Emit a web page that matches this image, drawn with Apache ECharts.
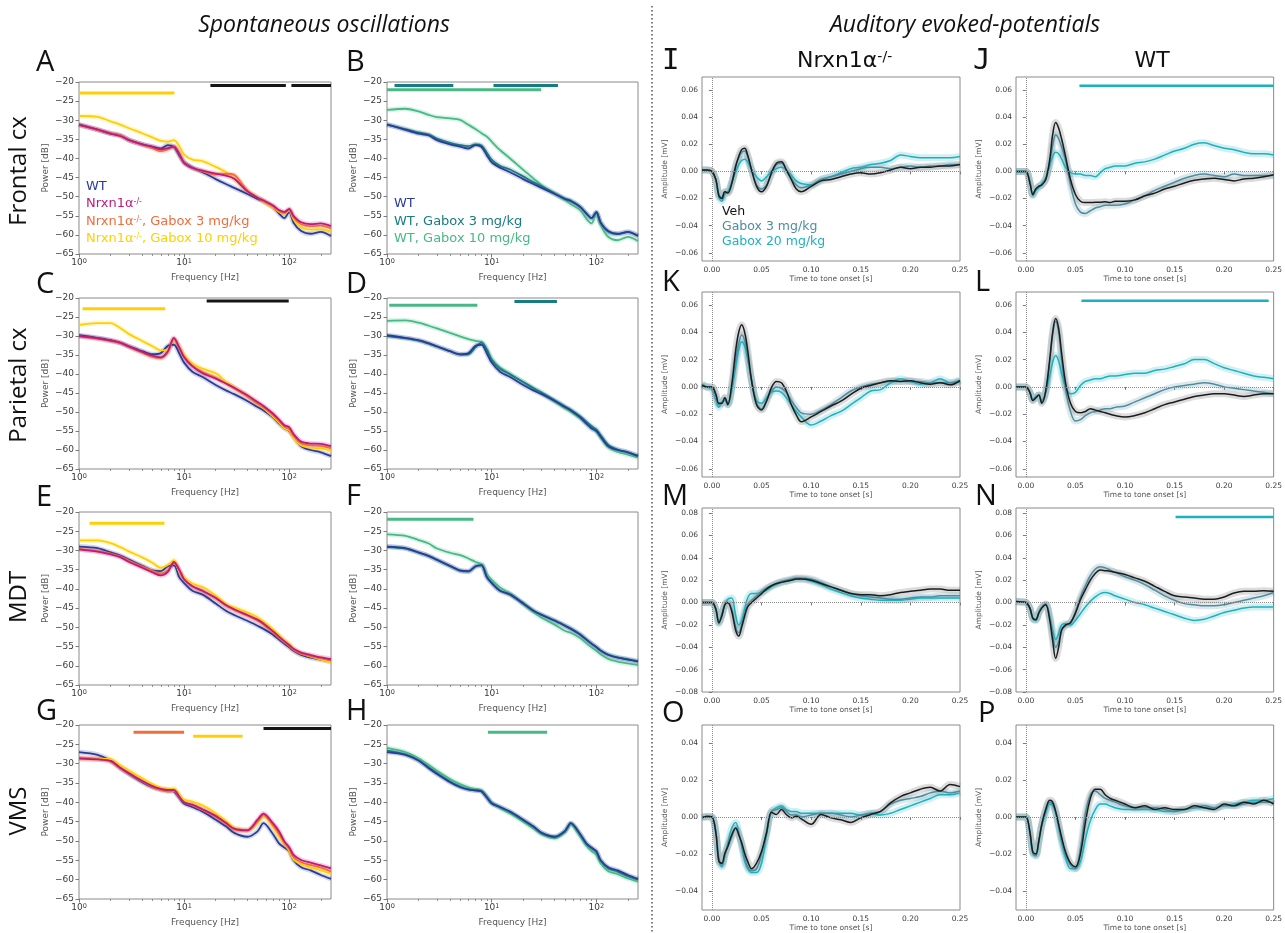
<!DOCTYPE html>
<html>
<head>
<meta charset="utf-8">
<script src="https://cdn.jsdelivr.net/npm/echarts@6/dist/echarts.min.js"></script>
<style>
html, body { margin: 0; padding: 0; background: #fff; }
#chart { width: 1285px; height: 933px; }
</style>
</head>
<body>
<div id="chart"></div>
<script>
// ---- spectra (power in dB at each frequency) ----
const freqHz = [1, 1.5, 2, 2.5, 3, 4, 5, 6, 7, 8, 9, 10, 12, 15, 20, 25, 30, 40, 50, 57, 70, 80, 90, 100, 110, 130, 160, 200, 250];
const minorTickHz = [2, 3, 4, 5, 6, 7, 8, 9, 20, 30, 40, 50, 60, 70, 80, 90, 200];

const frontalWT = [-31.1, -32.5, -33.5, -34.0, -35.2, -36.3, -36.9, -37.4, -36.5, -37.0, -39.2, -41.0, -42.4, -43.6, -45.4, -46.7, -47.7, -49.3, -50.6, -51.2, -52.7, -54.4, -55.6, -54.0, -56.8, -59.0, -59.7, -59.2, -60.3];
const frontalKO = [-31.2, -32.4, -33.5, -34.2, -35.2, -36.3, -37.0, -37.6, -37.3, -36.9, -38.8, -41.2, -42.5, -43.2, -44.0, -44.5, -45.3, -48.6, -50.3, -51.0, -52.3, -53.5, -54.0, -53.2, -55.0, -56.7, -57.2, -57.0, -57.7];
const frontalKOg3 = [-31.2, -32.5, -33.4, -34.0, -35.2, -36.4, -37.3, -38.1, -37.6, -37.0, -38.8, -41.0, -42.5, -43.4, -44.2, -44.0, -44.3, -48.4, -50.2, -51.2, -52.6, -53.8, -54.3, -53.5, -55.5, -57.2, -57.7, -57.6, -58.3];
const frontalKOg10 = [-28.9, -29.1, -30.3, -31.2, -32.1, -33.4, -34.5, -35.4, -35.6, -35.2, -36.8, -39.0, -40.3, -40.7, -42.2, -43.6, -45.3, -48.6, -50.2, -51.3, -52.8, -54.0, -54.5, -53.6, -56.0, -58.0, -58.6, -58.5, -59.2];
const frontalWTg3 = [-31.2, -32.3, -33.2, -33.7, -34.8, -35.9, -36.5, -36.8, -36.3, -36.6, -38.5, -40.3, -41.9, -42.9, -44.7, -46.2, -47.3, -49.1, -50.5, -51.0, -52.6, -54.3, -55.6, -54.2, -56.8, -59.2, -59.8, -59.3, -60.2];
const frontalWTg10 = [-27.3, -27.0, -27.7, -28.6, -29.2, -29.5, -29.9, -31.2, -32.3, -33.4, -34.3, -35.6, -37.8, -40.0, -43.0, -45.2, -47.0, -49.2, -50.9, -52.0, -53.5, -55.7, -57.0, -54.4, -57.5, -60.5, -61.4, -60.5, -61.6];

const parietalWT = [-29.8, -30.5, -31.1, -31.9, -32.7, -34.0, -34.8, -34.5, -32.6, -32.3, -34.6, -37.0, -39.4, -40.8, -42.9, -44.3, -45.3, -47.1, -48.7, -49.6, -51.4, -53.0, -54.3, -55.0, -56.5, -59.0, -60.0, -60.6, -61.6];
const parietalKO = [-30.0, -30.6, -31.2, -31.8, -32.8, -34.2, -35.2, -35.6, -34.0, -30.5, -33.0, -35.6, -38.0, -39.8, -41.2, -42.5, -43.6, -45.6, -47.4, -48.4, -50.4, -52.0, -53.5, -54.0, -55.8, -57.8, -58.3, -58.4, -59.0];
const parietalKOg3 = [-30.1, -30.7, -31.3, -31.9, -32.9, -34.4, -35.5, -35.8, -34.3, -30.8, -33.2, -35.4, -37.8, -39.5, -41.0, -42.5, -43.8, -45.9, -47.8, -48.8, -50.8, -52.4, -53.8, -54.5, -56.3, -58.3, -58.8, -58.9, -59.5];
const parietalKOg10 = [-27.1, -26.6, -26.6, -28.0, -29.5, -31.3, -32.7, -33.8, -33.5, -31.0, -32.8, -35.0, -37.2, -38.6, -39.8, -42.0, -43.5, -45.8, -47.9, -49.0, -51.2, -52.8, -54.3, -54.9, -56.8, -58.8, -59.4, -59.6, -60.2];
const parietalWTg3 = [-30.0, -30.6, -31.2, -32.0, -32.8, -34.0, -34.9, -34.8, -33.0, -31.7, -33.6, -36.3, -38.6, -40.1, -42.1, -43.7, -44.9, -46.9, -48.5, -49.4, -51.1, -52.5, -53.7, -54.6, -56.1, -58.6, -59.9, -60.6, -61.5];
const parietalWTg10 = [-26.0, -25.9, -26.5, -27.3, -28.0, -29.2, -30.1, -30.8, -31.3, -31.6, -33.5, -36.0, -38.3, -40.0, -42.2, -43.8, -45.0, -47.3, -49.0, -50.0, -51.7, -53.1, -54.4, -55.2, -56.8, -59.3, -60.5, -61.2, -62.0];

const mdtWT = [-29.0, -29.4, -30.5, -31.4, -32.4, -34.0, -35.2, -35.4, -34.1, -33.9, -37.0, -38.5, -40.5, -41.5, -43.8, -45.7, -46.8, -48.3, -49.6, -50.4, -51.9, -53.2, -54.3, -55.2, -56.1, -57.2, -57.9, -58.4, -58.9];
const mdtKO = [-29.7, -30.3, -31.0, -31.8, -33.0, -34.5, -35.7, -36.5, -35.6, -33.0, -35.0, -37.5, -39.3, -40.5, -42.3, -44.2, -45.3, -46.8, -48.0, -49.0, -51.0, -52.4, -53.6, -54.6, -55.6, -56.6, -57.2, -57.8, -58.3];
const mdtKOg3 = [-29.6, -30.2, -30.8, -31.6, -32.7, -34.2, -35.3, -36.0, -35.2, -33.2, -35.2, -37.6, -39.4, -40.6, -42.5, -44.4, -45.5, -47.0, -48.3, -49.3, -51.3, -52.7, -53.9, -54.9, -55.9, -56.9, -57.5, -58.1, -58.6];
const mdtKOg10 = [-27.4, -27.4, -28.1, -29.2, -30.3, -31.8, -33.2, -34.5, -33.8, -32.5, -35.6, -37.0, -38.6, -39.5, -41.7, -43.9, -44.8, -46.1, -47.4, -48.5, -50.5, -52.0, -53.3, -54.4, -55.6, -56.8, -57.6, -58.4, -59.1];
const mdtWTg3 = [-29.1, -29.5, -30.6, -31.5, -32.5, -34.1, -35.3, -35.5, -34.2, -33.8, -36.9, -38.4, -40.4, -41.4, -43.7, -45.6, -46.7, -48.2, -49.5, -50.3, -51.8, -53.1, -54.2, -55.1, -56.0, -57.1, -57.8, -58.3, -58.8];
const mdtWTg10 = [-25.8, -26.2, -27.3, -28.2, -29.5, -30.6, -31.2, -32.1, -33.0, -33.6, -36.2, -37.6, -39.6, -41.2, -44.0, -46.0, -47.5, -49.3, -50.9, -51.4, -52.8, -54.1, -55.2, -56.1, -57.0, -58.2, -58.9, -59.4, -59.8];

const vmsWT = [-27.0, -27.7, -29.2, -31.2, -32.7, -34.8, -36.1, -36.7, -36.9, -37.2, -38.8, -40.3, -41.2, -42.4, -44.5, -46.2, -47.9, -48.9, -47.5, -45.4, -48.2, -50.6, -51.7, -52.6, -55.0, -56.8, -57.6, -58.8, -59.8];
const vmsKO = [-28.7, -28.9, -29.3, -31.2, -32.5, -34.5, -35.8, -36.5, -36.8, -36.8, -38.5, -40.0, -40.6, -41.8, -43.5, -45.3, -46.8, -47.2, -44.5, -42.9, -45.4, -47.5, -50.1, -51.6, -53.6, -54.9, -55.6, -56.3, -57.1];
const vmsKOg3 = [-28.4, -28.8, -29.5, -31.3, -32.6, -34.6, -36.0, -36.8, -37.2, -37.1, -38.6, -40.0, -40.8, -42.0, -43.8, -45.6, -47.0, -47.4, -45.0, -43.3, -45.9, -48.1, -50.5, -52.1, -54.2, -55.5, -56.2, -56.9, -57.9];
const vmsKOg10 = [-28.8, -28.7, -28.8, -30.5, -31.8, -33.8, -35.3, -36.2, -36.6, -36.5, -38.0, -39.3, -39.8, -40.8, -42.8, -44.8, -46.6, -47.2, -45.3, -43.6, -46.3, -48.8, -50.8, -52.5, -54.8, -56.0, -56.8, -57.6, -58.5];
const vmsWTg3 = [-26.6, -27.6, -29.1, -30.9, -32.4, -34.6, -35.9, -36.6, -36.9, -37.1, -38.6, -40.1, -41.2, -42.5, -44.6, -46.3, -47.9, -48.9, -47.4, -45.4, -48.3, -50.6, -51.9, -52.9, -55.1, -57.1, -57.9, -59.1, -60.0];
const vmsWTg10 = [-25.9, -27.0, -28.6, -30.3, -31.8, -34.0, -35.3, -36.1, -36.6, -36.9, -38.6, -40.2, -41.5, -42.9, -45.0, -46.8, -48.3, -49.3, -47.8, -45.8, -48.8, -51.2, -52.6, -53.6, -55.8, -57.8, -58.6, -59.7, -60.5];

// significance bars: [group, from Hz, to Hz, level dB]
const sigA = [['koG10', 1, 8.1, -22.9], ['wtko', 17.8, 93, -20.9], ['wtko', 105, 250, -20.9]];
const sigB = [['wtG3', 1.18, 4.3, -20.9], ['wtG3', 10.4, 43, -20.9], ['wtG10', 1, 29.7, -22.0]];
const sigC = [['koG10', 1.08, 6.6, -22.8], ['wtko', 16.4, 99, -20.8]];
const sigD = [['wtG10', 1.05, 7.3, -21.9], ['wtG3', 16.5, 42, -20.9]];
const sigE = [['koG10', 1.26, 6.5, -22.9]];
const sigF = [['wtG10', 1, 6.7, -21.9]];
const sigG = [['koG3', 3.3, 10, -21.9], ['koG10', 12.2, 36, -22.9], ['wtko', 57, 250, -20.9]];
const sigH = [['wtG10', 9.2, 33.8, -21.9]];

// ---- auditory evoked potentials (mV) ----
const erpTime = [-0.01, -0.005, 0, 0.004, 0.007, 0.01, 0.013, 0.016, 0.02, 0.024, 0.027, 0.03, 0.033, 0.036, 0.04, 0.045, 0.05, 0.055, 0.06, 0.065, 0.07, 0.075, 0.08, 0.085, 0.09, 0.1, 0.11, 0.12, 0.13, 0.14, 0.15, 0.16, 0.17, 0.18, 0.19, 0.2, 0.21, 0.22, 0.23, 0.24, 0.25];
const erpTimeTicks = [0, 0.05, 0.1, 0.15, 0.2, 0.25];
const ampTicks6 = [-0.06, -0.04, -0.02, 0, 0.02, 0.04, 0.06];
const ampTicks8 = [-0.08, -0.06, -0.04, -0.02, 0, 0.02, 0.04, 0.06, 0.08];
const ampTicks4 = [-0.04, -0.02, 0, 0.02, 0.04];

const koFrontalVeh = [0.001, 0.001, 0, -0.006, -0.018, -0.020, -0.015, -0.016, -0.009, 0.004, 0.011, 0.016, 0.017, 0.012, 0.001, -0.011, -0.015, -0.011, -0.001, 0.006, 0.007, 0.001, -0.006, -0.013, -0.015, -0.011, -0.007, -0.006, -0.004, -0.002, -0.001, -0.002, -0.001, 0.001, 0.003, 0.002, 0.003, 0.003, 0.004, 0.004, 0.005];
const koFrontalG3 = [0.001, 0.001, 0, -0.006, -0.017, -0.019, -0.015, -0.015, -0.008, 0.004, 0.010, 0.014, 0.015, 0.011, 0.001, -0.010, -0.013, -0.010, -0.002, 0.005, 0.006, 0.001, -0.005, -0.010, -0.012, -0.010, -0.006, -0.004, -0.002, 0.000, 0.002, 0.003, 0.003, 0.002, 0.003, 0.004, 0.003, 0.004, 0.004, 0.005, 0.005];
const koFrontalG20 = [0.001, 0.001, 0, -0.007, -0.019, -0.022, -0.017, -0.015, -0.008, 0.000, 0.005, 0.008, 0.009, 0.007, 0.001, -0.004, -0.007, -0.004, 0.000, 0.002, 0.003, 0.001, -0.003, -0.007, -0.009, -0.010, -0.006, -0.004, -0.001, 0.002, 0.003, 0.005, 0.006, 0.008, 0.012, 0.011, 0.010, 0.010, 0.010, 0.010, 0.011];
const wtFrontalVeh = [0, 0, 0, -0.0085, -0.017, -0.013, -0.011, -0.010, -0.006, 0.0085, 0.027, 0.036, 0.032, 0.024, 0.011, -0.006, -0.017, -0.022, -0.023, -0.023, -0.0227, -0.0227, -0.0224, -0.023, -0.022, -0.022, -0.021, -0.018, -0.016, -0.013, -0.011, -0.0085, -0.0066, -0.0056, -0.005, -0.006, -0.007, -0.0056, -0.005, -0.004, -0.0025];
const wtFrontalG3 = [0, 0, 0, -0.008, -0.017, -0.013, -0.011, -0.010, -0.006, 0.006, 0.019, 0.027, 0.024, 0.018, 0.008, -0.010, -0.024, -0.030, -0.031, -0.029, -0.027, -0.026, -0.025, -0.025, -0.025, -0.024, -0.021, -0.018, -0.014, -0.011, -0.008, -0.005, -0.003, -0.002, -0.003, -0.004, -0.002, -0.003, -0.003, -0.003, -0.003];
const wtFrontalG20 = [0, 0, 0, -0.007, -0.018, -0.014, -0.012, -0.009, -0.005, 0.004, 0.011, 0.014, 0.013, 0.009, 0.003, -0.001, -0.002, -0.002, -0.003, -0.003, -0.004, -0.001, 0.002, 0.003, 0.004, 0.004, 0.006, 0.007, 0.009, 0.012, 0.015, 0.017, 0.020, 0.021, 0.019, 0.017, 0.016, 0.014, 0.013, 0.013, 0.012];

const koParietalVeh = [0.001, 0, 0, -0.0055, -0.012, -0.012, -0.008, -0.013, 0.002, 0.027, 0.040, 0.0455, 0.040, 0.027, 0.0045, -0.013, -0.017, -0.0105, -0.0005, 0.004, 0.003, -0.003, -0.013, -0.0205, -0.0255, -0.022, -0.018, -0.014, -0.0105, -0.0055, -0.001, 0.001, 0.003, 0.0045, 0.004, 0.0045, 0.003, 0.002, 0.003, 0.0015, 0.0045];
const koParietalG3 = [0.002, 0, 0, -0.006, -0.013, -0.012, -0.008, -0.012, 0, 0.020, 0.032, 0.038, 0.034, 0.022, 0.004, -0.012, -0.016, -0.010, -0.003, 0, -0.001, -0.004, -0.010, -0.015, -0.019, -0.020, -0.017, -0.013, -0.008, -0.003, 0, 0.002, 0.003, 0.004, 0.004, 0.004, 0.004, 0.003, 0.003, 0.003, 0.004];
const koParietalG20 = [0.002, 0, -0.002, -0.010, -0.015, -0.011, -0.010, -0.013, -0.003, 0.015, 0.027, 0.033, 0.030, 0.020, 0.005, -0.010, -0.012, -0.008, -0.004, -0.003, -0.004, -0.008, -0.013, -0.018, -0.022, -0.028, -0.025, -0.021, -0.018, -0.013, -0.008, -0.003, -0.002, 0.003, 0.006, 0.004, 0.002, 0.003, 0.006, 0.003, 0.005];
const wtParietalVeh = [0, 0, 0, -0.004, -0.010, -0.008, -0.006, -0.012, -0.003, 0.020, 0.040, 0.050, 0.043, 0.025, 0.003, -0.012, -0.018, -0.019, -0.018, -0.016, -0.017, -0.018, -0.019, -0.020, -0.021, -0.022, -0.021, -0.019, -0.016, -0.013, -0.011, -0.009, -0.007, -0.006, -0.005, -0.005, -0.006, -0.007, -0.006, -0.005, -0.005];
const wtParietalG3 = [0, 0, 0, -0.004, -0.010, -0.008, -0.006, -0.011, -0.004, 0.018, 0.038, 0.048, 0.040, 0.020, -0.002, -0.018, -0.025, -0.024, -0.021, -0.019, -0.018, -0.017, -0.016, -0.016, -0.015, -0.014, -0.011, -0.008, -0.005, -0.002, 0.000, 0.001, 0.002, 0.003, 0.002, 0.000, -0.001, -0.002, -0.003, -0.004, -0.005];
const wtParietalG20 = [0, 0, 0, -0.004, -0.009, -0.007, -0.006, -0.010, -0.004, 0.008, 0.018, 0.023, 0.019, 0.010, 0.000, -0.005, -0.004, 0.001, 0.004, 0.005, 0.006, 0.006, 0.007, 0.008, 0.008, 0.009, 0.010, 0.010, 0.012, 0.013, 0.015, 0.017, 0.020, 0.020, 0.017, 0.014, 0.012, 0.010, 0.008, 0.007, 0.006];

const koMdtVeh = [0, 0, 0, -0.006, -0.018, -0.012, -0.002, 0.000, -0.008, -0.025, -0.030, -0.022, -0.012, -0.004, 0.000, 0.004, 0.008, 0.012, 0.015, 0.017, 0.018, 0.019, 0.020, 0.021, 0.021, 0.020, 0.017, 0.014, 0.011, 0.008, 0.007, 0.007, 0.006, 0.007, 0.009, 0.010, 0.011, 0.012, 0.012, 0.011, 0.011];
const koMdtG3 = [0, 0, 0, -0.006, -0.017, -0.011, -0.002, 0.000, -0.006, -0.022, -0.027, -0.020, -0.010, -0.002, 0.002, 0.006, 0.010, 0.013, 0.015, 0.017, 0.019, 0.020, 0.021, 0.022, 0.022, 0.021, 0.018, 0.014, 0.011, 0.008, 0.006, 0.005, 0.004, 0.003, 0.003, 0.004, 0.005, 0.005, 0.006, 0.006, 0.006];
const koMdtG20 = [0, 0, 0, -0.007, -0.019, -0.010, -0.002, 0.003, 0.004, -0.012, -0.020, -0.016, -0.006, 0.004, 0.008, 0.008, 0.009, 0.011, 0.014, 0.016, 0.018, 0.019, 0.020, 0.021, 0.021, 0.019, 0.016, 0.012, 0.009, 0.006, 0.004, 0.003, 0.002, 0.002, 0.002, 0.003, 0.004, 0.004, 0.004, 0.004, 0.004];
const wtMdtVeh = [0.001, 0.0005, 0, -0.005, -0.014, -0.0155, -0.0095, -0.005, -0.002, -0.0155, -0.034, -0.050, -0.040, -0.0245, -0.020, -0.018, -0.0095, 0.0025, 0.0115, 0.020, 0.026, 0.029, 0.0285, 0.028, 0.027, 0.025, 0.022, 0.019, 0.0145, 0.010, 0.006, 0.005, 0.004, 0.003, 0.003, 0.005, 0.0085, 0.010, 0.010, 0.0105, 0.010];
const wtMdtG3 = [0.001, 0.0005, 0, -0.005, -0.014, -0.015, -0.009, -0.004, -0.001, -0.013, -0.029, -0.040, -0.035, -0.025, -0.021, -0.018, -0.008, 0.005, 0.015, 0.024, 0.030, 0.032, 0.031, 0.029, 0.027, 0.023, 0.020, 0.016, 0.011, 0.006, 0.002, -0.001, -0.002, -0.003, -0.003, -0.002, 0.000, 0.002, 0.004, 0.006, 0.009];
const wtMdtG20 = [0.001, 0.0005, 0, -0.005, -0.015, -0.016, -0.009, -0.004, -0.002, -0.012, -0.025, -0.033, -0.028, -0.020, -0.019, -0.020, -0.016, -0.010, -0.004, 0.001, 0.005, 0.008, 0.009, 0.008, 0.006, 0.003, 0.000, -0.002, -0.005, -0.008, -0.011, -0.014, -0.016, -0.015, -0.012, -0.009, -0.007, -0.005, -0.004, -0.004, -0.004];

const koVmsVeh = [-0.0005, 0.0004, 0, -0.0087, -0.024, -0.025, -0.0196, -0.016, -0.0096, -0.006, -0.0096, -0.014, -0.0196, -0.024, -0.028, -0.025, -0.0187, -0.0087, 0.0025, 0.0013, 0.004, 0.0013, -0.0005, 0.0004, -0.001, -0.004, 0.0013, -0.0005, -0.0015, -0.003, -0.0005, 0.0013, 0.003, 0.0076, 0.011, 0.013, 0.015, 0.016, 0.014, 0.0176, 0.0164];
const koVmsG3 = [0, 0, 0, -0.008, -0.022, -0.026, -0.021, -0.016, -0.011, -0.006, -0.009, -0.015, -0.022, -0.027, -0.029, -0.028, -0.020, -0.008, 0.003, 0.004, 0.005, 0.003, 0.001, 0.001, 0.000, 0.001, 0.002, 0.002, 0.001, 0.000, 0.001, 0.002, 0.003, 0.007, 0.009, 0.010, 0.011, 0.013, 0.014, 0.013, 0.014];
const koVmsG20 = [0, 0, 0, -0.009, -0.024, -0.027, -0.021, -0.014, -0.006, -0.003, -0.008, -0.016, -0.024, -0.028, -0.030, -0.030, -0.025, -0.010, 0.003, 0.005, 0.006, 0.004, 0.003, 0.003, 0.002, 0.002, 0.002, 0.002, 0.002, 0.002, 0.001, 0.002, 0.001, 0.002, 0.004, 0.006, 0.008, 0.010, 0.012, 0.012, 0.013];
const wtVmsVeh = [0, 0, 0, -0.008, -0.019, -0.020, -0.013, -0.004, 0.004, 0.009, 0.008, 0.003, -0.004, -0.011, -0.019, -0.025, -0.027, -0.020, -0.003, 0.010, 0.015, 0.015, 0.012, 0.010, 0.009, 0.007, 0.005, 0.006, 0.004, 0.005, 0.004, 0.004, 0.006, 0.005, 0.004, 0.007, 0.006, 0.008, 0.007, 0.009, 0.007];
const wtVmsG3 = [0, 0, 0, -0.008, -0.019, -0.021, -0.013, -0.004, 0.004, 0.008, 0.007, 0.003, -0.004, -0.012, -0.020, -0.026, -0.028, -0.017, 0.002, 0.012, 0.014, 0.012, 0.010, 0.009, 0.008, 0.006, 0.005, 0.005, 0.005, 0.004, 0.003, 0.004, 0.005, 0.006, 0.005, 0.006, 0.006, 0.007, 0.008, 0.008, 0.008];
const wtVmsG20 = [0, 0, 0, -0.009, -0.020, -0.021, -0.014, -0.005, 0.002, 0.007, 0.006, 0.002, -0.006, -0.014, -0.022, -0.028, -0.028, -0.024, -0.012, -0.002, 0.004, 0.007, 0.007, 0.006, 0.005, 0.004, 0.004, 0.004, 0.004, 0.003, 0.003, 0.004, 0.005, 0.005, 0.005, 0.006, 0.007, 0.008, 0.009, 0.009, 0.010];

// significance bars: [group, from s, to s, level mV]
const sigJ = [['g20', 0.054, 0.25, 0.063]];
const sigL = [['g20', 0.056, 0.245, 0.063]];
const sigN = [['g20', 0.151, 0.25, 0.0765]];

const colors = {
    wt: '#2b3c98', ko: '#c0197b', koG3: '#f26c3c', koG10: '#ffd000',
    wtG3: '#177c82', wtG10: '#46b985', wtko: '#151515',
    veh: '#1c1c1c', g3: '#4e8d9f', g20: '#1db1bf'
};

const grids = [], xAxes = [], yAxes = [], series = [];
const tickColor = '#7a7a7a';
const labelColor = '#3a3a3a';
const minus = v => (v < -1e-9 ? '\u2212' : '') + Math.abs(v);

// 功率谱面板
function addSpectrum(left, top, width, height, curves, bars) {
    const gi = grids.length;
    grids.push({ left, top, width, height, show: true, borderColor: '#8a8a8a', borderWidth: 1, backgroundColor: 'transparent' });
    const xi = xAxes.length;
    xAxes.push({
        type: 'log', logBase: 10, min: 1, max: 250, gridIndex: gi, position: 'bottom',
        name: 'Frequency [Hz]', nameLocation: 'middle', nameGap: 19,
        nameTextStyle: { fontSize: 9, color: '#555', fontFamily: 'DejaVu Sans' },
        axisLine: { show: false }, splitLine: { show: false }, minorTick: { show: false },
        axisTick: { show: true, length: 3.5, lineStyle: { color: tickColor } },
        axisLabel: {
            margin: 4, fontSize: 9, color: labelColor, fontFamily: 'DejaVu Sans', showMaxLabel: false,
            formatter: v => '10{e|' + Math.round(Math.log10(v)) + '}',
            rich: { e: { fontSize: 6.5, color: labelColor, fontFamily: 'DejaVu Sans', verticalAlign: 'top' } }
        }
    });
    // 次刻度
    xAxes.push({
        type: 'value', min: 0, max: Math.log10(250), gridIndex: gi, position: 'bottom',
        axisLine: { show: false }, splitLine: { show: false }, axisLabel: { show: false },
        axisTick: { show: true, length: 2, customValues: minorTickHz.map(f => Math.log10(f)), lineStyle: { color: tickColor, width: 0.8 } }
    });
    const yi = yAxes.length;
    yAxes.push({
        type: 'value', min: -65, max: -20, interval: 5, gridIndex: gi,
        name: 'Power [dB]', nameLocation: 'middle', nameGap: 29,
        nameTextStyle: { fontSize: 9, color: '#555', fontFamily: 'DejaVu Sans' },
        axisLine: { show: false }, splitLine: { show: false },
        axisTick: { show: true, length: 3.5, lineStyle: { color: tickColor } },
        axisLabel: { margin: 5, fontSize: 9, color: labelColor, fontFamily: 'DejaVu Sans', formatter: minus }
    });
    curves.forEach(([key, values]) => {
        const data = freqHz.map((f, i) => [f, values[i]]);
        series.push({ type: 'line', xAxisIndex: xi, yAxisIndex: yi, data, showSymbol: false, smooth: 0.3, silent: true, z: 1,
            lineStyle: { color: colors[key], width: 5, opacity: 0.2 } });
    });
    curves.forEach(([key, values]) => {
        const data = freqHz.map((f, i) => [f, values[i]]);
        series.push({ type: 'line', xAxisIndex: xi, yAxisIndex: yi, data, showSymbol: false, smooth: 0.3, silent: true, z: 2,
            lineStyle: { color: colors[key], width: 1.8 } });
    });
    bars.forEach(([key, from, to, level]) => {
        series.push({ type: 'line', xAxisIndex: xi, yAxisIndex: yi, data: [[from, level], [to, level]], showSymbol: false, silent: true, z: 3,
            lineStyle: { color: colors[key], width: 3 } });
    });
}

// 听觉诱发电位面板
function addErp(left, top, width, height, yRange, yTicks, curves, bars) {
    const gi = grids.length;
    grids.push({ left, top, width, height, show: true, borderColor: '#8a8a8a', borderWidth: 1, backgroundColor: 'transparent' });
    const xi = xAxes.length;
    xAxes.push({
        type: 'value', min: -0.01, max: 0.25, gridIndex: gi, position: 'bottom',
        name: 'Time to tone onset [s]', nameLocation: 'middle', nameGap: 13,
        nameTextStyle: { fontSize: 7.5, color: '#555', fontFamily: 'DejaVu Sans' },
        axisLine: { show: false }, splitLine: { show: false },
        axisTick: { show: true, length: 3, customValues: erpTimeTicks, lineStyle: { color: tickColor } },
        axisLabel: { customValues: erpTimeTicks, margin: 5, fontSize: 7.5, color: labelColor, fontFamily: 'DejaVu Sans', formatter: v => v.toFixed(2) }
    });
    const yi = yAxes.length;
    yAxes.push({
        type: 'value', min: yRange[0], max: yRange[1], gridIndex: gi,
        name: 'Amplitude [mV]', nameLocation: 'middle', nameGap: 33,
        nameTextStyle: { fontSize: 7.5, color: '#555', fontFamily: 'DejaVu Sans' },
        axisLine: { show: false }, splitLine: { show: false },
        axisTick: { show: true, length: 3, customValues: yTicks, lineStyle: { color: tickColor } },
        axisLabel: { customValues: yTicks, margin: 4, fontSize: 7.5, color: labelColor, fontFamily: 'DejaVu Sans',
            formatter: v => (v < -1e-9 ? '\u2212' : '') + Math.abs(v).toFixed(2) }
    });
    curves.forEach(([key, values], k) => {
        const data = erpTime.map((t, i) => [t, values[i]]);
        const s = { type: 'line', xAxisIndex: xi, yAxisIndex: yi, data, showSymbol: false, smooth: 0.35, silent: true, z: 1,
            lineStyle: { color: key === 'veh' ? '#8c8c8c' : colors[key], width: 7, opacity: key === 'veh' ? 0.3 : 0.2 } };
        if (k === 0) {
            s.markLine = { silent: true, symbol: ['none', 'none'], label: { show: false },
                lineStyle: { type: 'dotted', color: '#8a8a8a', width: 1 }, data: [{ xAxis: 0 }, { yAxis: 0 }] };
        }
        series.push(s);
    });
    curves.forEach(([key, values]) => {
        const data = erpTime.map((t, i) => [t, values[i]]);
        series.push({ type: 'line', xAxisIndex: xi, yAxisIndex: yi, data, showSymbol: false, smooth: 0.35, silent: true, z: 2,
            lineStyle: { color: colors[key], width: 1.5 } });
    });
    bars.forEach(([key, from, to, level]) => {
        series.push({ type: 'line', xAxisIndex: xi, yAxisIndex: yi, data: [[from, level], [to, level]], showSymbol: false, silent: true, z: 3,
            lineStyle: { color: colors[key], width: 2.5 } });
    });
}

addSpectrum(79, 82, 252, 172, [['wt', frontalWT], ['koG10', frontalKOg10], ['koG3', frontalKOg3], ['ko', frontalKO]], sigA);
addSpectrum(387, 82, 251, 172, [['wtG10', frontalWTg10], ['wtG3', frontalWTg3], ['wt', frontalWT]], sigB);
addSpectrum(79, 298, 252, 171, [['wt', parietalWT], ['koG10', parietalKOg10], ['koG3', parietalKOg3], ['ko', parietalKO]], sigC);
addSpectrum(387, 298, 251, 171, [['wtG10', parietalWTg10], ['wtG3', parietalWTg3], ['wt', parietalWT]], sigD);
addSpectrum(79, 512, 252, 173, [['wt', mdtWT], ['koG10', mdtKOg10], ['koG3', mdtKOg3], ['ko', mdtKO]], sigE);
addSpectrum(387, 512, 251, 173, [['wtG10', mdtWTg10], ['wtG3', mdtWTg3], ['wt', mdtWT]], sigF);
addSpectrum(79, 725, 252, 174, [['wt', vmsWT], ['koG10', vmsKOg10], ['koG3', vmsKOg3], ['ko', vmsKO]], sigG);
addSpectrum(387, 725, 251, 174, [['wtG10', vmsWTg10], ['wtG3', vmsWTg3], ['wt', vmsWT]], sigH);

addErp(702, 77, 258, 184, [-0.066, 0.0695], ampTicks6, [['g20', koFrontalG20], ['g3', koFrontalG3], ['veh', koFrontalVeh]], []);
addErp(1016, 77, 258, 184, [-0.066, 0.0695], ampTicks6, [['g20', wtFrontalG20], ['g3', wtFrontalG3], ['veh', wtFrontalVeh]], sigJ);
addErp(702, 292, 258, 185, [-0.066, 0.0695], ampTicks6, [['g20', koParietalG20], ['g3', koParietalG3], ['veh', koParietalVeh]], []);
addErp(1016, 292, 258, 185, [-0.066, 0.0695], ampTicks6, [['g20', wtParietalG20], ['g3', wtParietalG3], ['veh', wtParietalVeh]], sigL);
addErp(702, 508, 258, 184, [-0.08, 0.0845], ampTicks8, [['g20', koMdtG20], ['g3', koMdtG3], ['veh', koMdtVeh]], []);
addErp(1016, 508, 258, 184, [-0.08, 0.0845], ampTicks8, [['g20', wtMdtG20], ['g3', wtMdtG3], ['veh', wtMdtVeh]], sigN);
addErp(702, 725, 258, 185, [-0.0503, 0.0497], ampTicks4, [['g20', koVmsG20], ['g3', koVmsG3], ['veh', koVmsVeh]], []);
addErp(1016, 725, 258, 185, [-0.0503, 0.0497], ampTicks4, [['g20', wtVmsG20], ['g3', wtVmsG3], ['veh', wtVmsVeh]], []);

// 文字
function text(x, y, str, font, fill, align, extra) {
    return Object.assign({ type: 'text', x, y, silent: true,
        style: { text: str, font, fill, align: align || 'left', verticalAlign: 'middle' } }, extra || {});
}
function legendLine(x, y, str, color, size) {
    const t = text(x, y, str, size + 'px "DejaVu Sans"', color, 'left');
    t.style.rich = { s: { fill: color, fontSize: Math.round(size * 0.62), fontFamily: 'DejaVu Sans', verticalAlign: 'top' } };
    return t;
}
const letterFont = '29px "Open Sans"';
const graphic = [
    { type: 'line', silent: true, shape: { x1: 652, y1: 6, x2: 652, y2: 933 }, style: { stroke: '#555', lineWidth: 1.5, lineDash: [1.5, 2.5] } },
    text(324, 25, 'Spontaneous oscillations', 'italic 23px "Open Sans"', '#111', 'center'),
    text(965, 25, 'Auditory evoked-potentials', 'italic 23px "Open Sans"', '#111', 'center'),
    legendLine(797, 61, 'Nrxn1α{s|-/-}', '#111', 22),
    text(1152, 61, 'WT', '22px "DejaVu Sans"', '#111', 'center'),
    text(19, 171, 'Frontal cx', '24px "Open Sans"', '#111', 'center', { rotation: Math.PI / 2 }),
    text(19, 385, 'Parietal cx', '24px "Open Sans"', '#111', 'center', { rotation: Math.PI / 2 }),
    text(19, 597, 'MDT', '24px "Open Sans"', '#111', 'center', { rotation: Math.PI / 2 }),
    text(19, 811, 'VMS', '24px "Open Sans"', '#111', 'center', { rotation: Math.PI / 2 }),
    text(36, 63, 'A', letterFont, '#111'), text(346, 63, 'B', letterFont, '#111'),
    text(662, 61, 'I', '29px "DejaVu Sans Mono"', '#111'), text(973, 61, 'J', '29px "DejaVu Sans Mono"', '#111'),
    text(36, 285, 'C', letterFont, '#111'), text(346, 285, 'D', letterFont, '#111'),
    text(662, 283, 'K', letterFont, '#111'), text(975, 283, 'L', letterFont, '#111'),
    text(36, 498, 'E', letterFont, '#111'), text(346, 497, 'F', letterFont, '#111'),
    text(662, 497, 'M', letterFont, '#111'), text(975, 497, 'N', letterFont, '#111'),
    text(36, 712, 'G', letterFont, '#111'), text(346, 712, 'H', letterFont, '#111'),
    text(662, 714, 'O', letterFont, '#111'), text(978, 714, 'P', letterFont, '#111'),
    legendLine(86, 187, 'WT', colors.wt, 13),
    legendLine(86, 204, 'Nrxn1α{s|-/-}', colors.ko, 13),
    legendLine(86, 222, 'Nrxn1α{s|-/-}, Gabox 3 mg/kg', colors.koG3, 13),
    legendLine(86, 239, 'Nrxn1α{s|-/-}, Gabox 10 mg/kg', colors.koG10, 13),
    legendLine(394, 204, 'WT', colors.wt, 13),
    legendLine(394, 222, 'WT, Gabox 3 mg/kg', colors.wtG3, 13),
    legendLine(394, 239, 'WT, Gabox 10 mg/kg', colors.wtG10, 13),
    legendLine(722, 212, 'Veh', '#111', 12.5),
    legendLine(722, 227, 'Gabox 3 mg/kg', colors.g3, 12.5),
    legendLine(722, 242, 'Gabox 20 mg/kg', colors.g20, 12.5)
];

const chart = echarts.init(document.getElementById('chart'), null, { renderer: 'canvas' });
chart.setOption({
    animation: false,
    backgroundColor: '#fff',
    grid: grids,
    xAxis: xAxes,
    yAxis: yAxes,
    series: series,
    graphic: graphic
});
</script>
</body>
</html>
